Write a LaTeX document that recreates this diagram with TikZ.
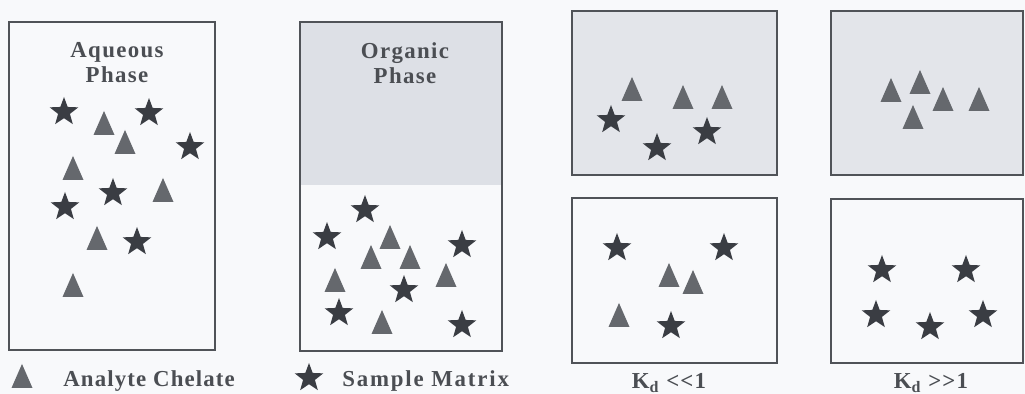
\documentclass[tikz,border=0pt]{standalone}
\usepackage{fontspec}
\setmainfont{Liberation Serif}
\usepackage{xcolor}
\usetikzlibrary{shapes.geometric, positioning, fit}

\definecolor{paper}{HTML}{F8F9FB}
\definecolor{framegrey}{HTML}{505358}
\definecolor{orgshade}{HTML}{DDE0E6}
\definecolor{partshade}{HTML}{E3E5EA}
\definecolor{trigrey}{HTML}{65686D}
\definecolor{stargrey}{HTML}{3A3D43}
\definecolor{inkgrey}{HTML}{4B4E53}

\begin{document}
\begin{tikzpicture}[
    x=0.02cm, y=-0.02cm,
    phasebox/.style={
      rectangle, draw=framegrey, line width=0.8pt,
      inner sep=0pt
    },
    shadebox/.style={
      rectangle, fill=#1, draw=none, inner sep=0pt
    },
    chelate/.pic={
      \fill[trigrey] (-10.5,12) -- (10.5,12) -- (0,-12) -- cycle;
    },
    mstar/.style={
      star, star points=5, star point ratio=2.4,
      fill=stargrey, minimum size=0.6cm, inner sep=0pt
    },
    phaselabel/.style={
      align=center, text=inkgrey,
      font=\fontsize{13}{14.2}\selectfont\bfseries\addfontfeature{LetterSpace=6}
    },
    legtext/.style={
      text=inkgrey, inner sep=0pt,
      font=\fontsize{13}{15}\selectfont\bfseries\addfontfeature{LetterSpace=#1}
    },
    legtext/.default=5
  ]
    \fill[paper] (0,0) rectangle (1025,394);
    \useasboundingbox (0,0) rectangle (1025,394);

    % extraction before
    \node[phasebox, fit={(9,22) (215,350)}] (aqueous) {};
    \node[shadebox=orgshade, fit={(300,22) (502,185)}] (organic-top) {};
    \node[phasebox, fit={(300,22) (502,351)}] (organic) {};
    \node[phaselabel] (aq-label) at (117,63) {Aqueous\\Phase};
    \node[phaselabel] (org-label) at (405,63) {Organic\\Phase};

    % partition after
    \node[shadebox=partshade, fit={(572,11) (777,175)}] (low-top-fill) {};
    \node[phasebox, fit={(572,11) (777,175)}] (low-top) {};
    \node[phasebox, fit={(572,198) (777,363)}] (low-bottom) {};
    \node[shadebox=partshade, fit={(831,11) (1023,175)}] (high-top-fill) {};
    \node[phasebox, fit={(831,11) (1023,175)}] (high-top) {};
    \node[phasebox, fit={(831,199) (1023,363)}] (high-bottom) {};

    % markers
    \foreach \x/\y [count=\i] in {104/123, 125/142, 73/168, 163/190, 97/238, 73/285}
      \pic (aq-t\i) at (\x,\y) {chelate};
    \foreach \x/\y [count=\i] in {64/112, 149/113, 190/147, 113/193, 65/207, 137/242}
      \node[mstar] (aq-s\i) at (\x,\y) {};

    \foreach \x/\y [count=\i] in {390/237, 371/257, 410/257, 335/280, 446/275, 382/322}
      \pic (org-t\i) at (\x,\y) {chelate};
    \foreach \x/\y [count=\i] in {365/210, 327/237, 462/245, 404/290, 339/313, 462/325}
      \node[mstar] (org-s\i) at (\x,\y) {};

    \foreach \x/\y [count=\i] in {632/89, 683/97, 722/97, 669/275, 693/282, 619/315}
      \pic (low-t\i) at (\x,\y) {chelate};
    \foreach \x/\y [count=\i] in {611/120, 657/148, 707/132, 617/248, 724/248, 671/326}
      \node[mstar] (low-s\i) at (\x,\y) {};

    \foreach \x/\y [count=\i] in {891/90, 920/82, 943/99, 979/99, 913/117}
      \pic (high-t\i) at (\x,\y) {chelate};
    \foreach \x/\y [count=\i] in {882/270, 966/270, 876/315, 930/327, 983/315}
      \node[mstar] (high-s\i) at (\x,\y) {};

    % legend and captions
    \pic (leg-tri) at (22,376) {chelate};
    \node[legtext, anchor=base west] (leg-tri-text) at (63,387) {Analyte Chelate};
    \node[mstar] (leg-star) at (309,378) {};
    \node[legtext=8, anchor=base west] (leg-star-text) at (342,387) {Sample Matrix};
    \node[legtext, anchor=base] (kd-low) at (669,389) {K\textsubscript{d} {<}{<}1};
    \node[legtext, anchor=base] (kd-high) at (931,389) {K\textsubscript{d} {>}{>}1};
  \end{tikzpicture}
\end{document}
